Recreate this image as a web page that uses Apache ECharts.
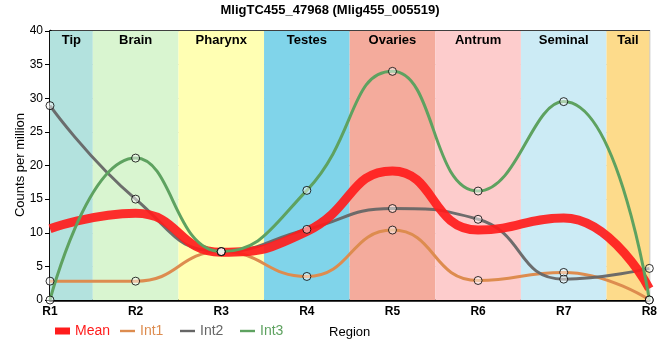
<!DOCTYPE html>
<html><head><meta charset="utf-8">
<script src="https://cdn.jsdelivr.net/npm/echarts@6/dist/echarts.min.js"></script>
<style>html,body{margin:0;padding:0;background:#fff}#c{width:660px;height:360px}</style>
</head><body><div id="c"></div>
<script>
var categories = ['R1','R2','R3','R4','R5','R6','R7','R8'];
var meanVals = [10.6, 12.9, 7.1, 10.2, 19.2, 10.4, 12.2, 1.7];
var int1Vals = [2.8, 2.8, 7.2, 3.5, 10.4, 2.9, 4.1, 0];
var int2Vals = [28.9, 15.0, 7.2, 10.5, 13.6, 12.0, 3.1, 4.7];
var int3Vals = [0, 21.1, 7.2, 16.3, 34.0, 16.2, 29.5, 0];
var bandNames = ['Tip','Brain','Pharynx','Testes','Ovaries','Antrum','Seminal','Tail'];
var bandColors = ['#b3e2de','#d9f5d0','#ffffb3','#80d4ea','#f4ab9c','#fdcccc','#ccebf5','#fddb8b'];
var bandEdges = [0, 0.5, 1.5, 2.5, 3.5, 4.5, 5.5, 6.5, 7];
var yTicks = {min: 0, max: 40, step: 5};
var legendNames = ['Mean','Int1','Int2','Int3'];

var FONT = 'Liberation Sans, Arial, sans-serif';
function pts(arr){ return arr.map(function(v,i){ return [i, v]; }); }

var bandData = bandNames.map(function(n,i){
  return [{xAxis: bandEdges[i], yAxis: yTicks.max, name: n, itemStyle:{color: bandColors[i]}},
          {xAxis: bandEdges[i+1], yAxis: yTicks.min}];
});

var lineColors = {Mean:'#ff1c1c', Int1:'#dd8c4f', Int2:'#666666', Int3:'#5ea260'};
var lineIcon = 'path://M0,0 M15,7 M0,2.3 L15,2.3 L15,4.7 L0,4.7 Z';

function lineSeries(name, arr, w, z){
  return {name:name, type:'line', data: pts(arr), smooth: 0.5, symbol:'none', z:z,
    lineStyle:{color: lineColors[name], width: w, opacity: name==='Mean'?0.92:(name==='Int2'?0.95:1)},
    itemStyle:{color: lineColors[name]}, emphasis:{disabled:true}};
}
function markerSeries(arr){
  return {type:'scatter', data: pts(arr), symbol:'circle', symbolSize: 8, z: 10, silent:true,
    itemStyle:{color:'rgba(255,255,255,0.6)', borderColor:'#000', borderWidth:1}};
}
var legendLefts = [55, 120, 180, 240];
var legends = legendNames.map(function(n, i){
  return {left: legendLefts[i], top: 324, padding: 0, itemWidth: 15, itemHeight: 7, itemGap: 0,
    textStyle:{fontFamily:FONT, fontSize:14, color: lineColors[n]},
    data:[{name:n, icon: n==='Mean' ? 'rect' : lineIcon}]};
});

var chart = echarts.init(document.getElementById('c'), null, {renderer:'canvas'});
chart.setOption({
  animation:false,
  backgroundColor:'#fff',
  title:{text:'MligTC455_47968 (Mlig455_005519)', left:'center', top:-1,
    textStyle:{fontFamily:FONT, fontSize:13, fontWeight:'bold', color:'#000'}},
  grid:{left:50, right:10, top:31, bottom:60, show:true, borderColor:'#000', borderWidth:1.5, backgroundColor:'transparent'},
  legend: legends,
  graphic:[{type:'text', x:20, y:165, rotation:Math.PI/2, z:10,
    style:{text:'Counts per million', fontFamily:FONT, fontSize:13, fill:'#000', align:'center', verticalAlign:'middle'}}],
  xAxis:{type:'value', min:0, max:categories.length-1, interval:1,
    name:'Region', nameLocation:'middle', nameGap:26,
    nameTextStyle:{fontFamily:FONT, fontSize:13, color:'#000'},
    axisLine:{show:true, lineStyle:{color:'#000', width:2.5}},
    axisTick:{show:false},
    axisLabel:{formatter:function(v){return categories[v]||'';}, color:'#000', fontFamily:FONT, fontSize:12, fontWeight:'bold', margin:6},
    splitLine:{show:true, lineStyle:{color:'#cccccc', width:1}}},
  yAxis:{type:'value', min:yTicks.min, max:yTicks.max, interval:yTicks.step,
    axisLine:{show:true, lineStyle:{color:'#000', width:2.5}},
    axisTick:{show:true, length:5, lineStyle:{color:'#000'}},
    axisLabel:{color:'#000', fontFamily:FONT, fontSize:12, margin:7},
    splitLine:{show:true, lineStyle:{color:'#cccccc', width:1}}},
  series:[
    {type:'line', data:[], silent:true, z:0,
      markArea:{silent:true, data:bandData,
        label:{show:true, position:'insideTop', distance:3, fontFamily:FONT, fontSize:13, fontWeight:'bold', color:'#000'}}},
    lineSeries('Int1', int1Vals, 3, 3),
    lineSeries('Int2', int2Vals, 3, 3),
    lineSeries('Mean', meanVals, 9, 3),
    lineSeries('Int3', int3Vals, 3, 3),
    markerSeries(int1Vals), markerSeries(int2Vals), markerSeries(int3Vals)
  ]
});
</script></body></html>
